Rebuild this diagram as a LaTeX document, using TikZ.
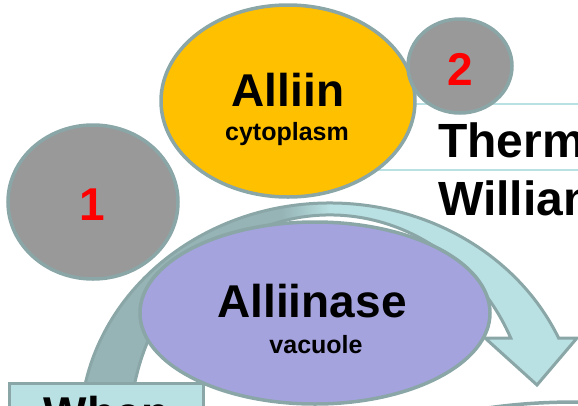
\documentclass[tikz,border=0pt]{standalone}
\usepackage{fontspec}
\setmainfont{Liberation Sans}
\usetikzlibrary{shapes.geometric, positioning}
\definecolor{rim}{RGB}{138,166,167}
\definecolor{alliinfill}{RGB}{255,192,0}
\definecolor{discgray}{RGB}{153,153,153}
\definecolor{enzfill}{RGB}{164,163,222}
\definecolor{arcdark}{RGB}{150,180,181}
\definecolor{arclight}{RGB}{185,224,226}
\tikzset{
  blob/.style={draw=rim, line width=3.5pt, ellipse, inner sep=0pt},
  numdisc/.style={blob, fill=discgray},
  namelbl/.style={font=\fontsize{46}{46}\selectfont\bfseries, inner sep=0pt, anchor=base},
  placelbl/.style={font=\fontsize{25}{25}\selectfont\bfseries, inner sep=0pt, anchor=base},
  numlbl/.style={namelbl, text=red},
  notelbl/.style={namelbl, anchor=base west, font=\fontsize{48}{48}\selectfont\bfseries},
}

\begin{document}
\begin{tikzpicture}[x=1pt, y=-1pt]
  \useasboundingbox (0,0) rectangle (578,405);
  \clip (0,0) rectangle (578,405);

  % note box behind Alliin
  \node[draw=arclight, line width=1.8pt, anchor=north west, minimum width=300, minimum height=66,
    inner sep=0pt] (notebox) at (330,103) {};

  % curved arrow
  \path[draw=rim, line width=3pt, path picture={
      \fill[arcdark] (0,150) rectangle (282,450);
      \shade[left color=arcdark, right color=arclight] (282,150) rectangle (330,450);
      \fill[arclight] (330,150) rectangle (600,450);
    }]
    (81,410.2) arc[start angle=185, end angle=336.1, x radius=250, y radius=227]
    -- (577,338) -- (537,385) -- (485,338) -- (510.8,338.1)
    arc[start angle=334.7, end angle=185.3, x radius=200, y radius=215] -- cycle;

  \node[blob, fill=alliinfill, minimum width=254, minimum height=192] (alliin) at (288,101) {};
  \node[numdisc, minimum width=104, minimum height=94] (disc2) at (460,66) {};
  \node[numdisc, minimum width=170, minimum height=154] (disc1) at (93,202) {};
  \node[blob, fill=enzfill, minimum width=350, minimum height=182] (alliinase) at (315,313) {};
  \node[blob, fill=white, minimum width=400, minimum height=120] (nextblob) at (575,462) {};
  \node[draw=rim, line width=3pt, fill=arclight, anchor=north west, minimum width=194,
    minimum height=60, inner sep=0pt, font=\fontsize{46}{46}\selectfont\bfseries] (whenbox) at (8,382) {When};

  % labels
  \node[namelbl] (alliintxt) at (288,106) {Alliin};
  \node[placelbl] (cytotxt) at (287,140) {cytoplasm};
  \node[numlbl] (twotxt) at (460,85) {2};
  \node[numlbl] (onetxt) at (92,220) {1};
  \node[namelbl] (alliinasetxt) at (312,317) {Alliinase};
  \node[placelbl] (vactxt) at (316,353) {vacuole};
  \node[notelbl] (thermtxt) at (438,157) {Therm};
  \node[notelbl] (willtxt) at (438,215) {Willian};
\end{tikzpicture}
\end{document}
